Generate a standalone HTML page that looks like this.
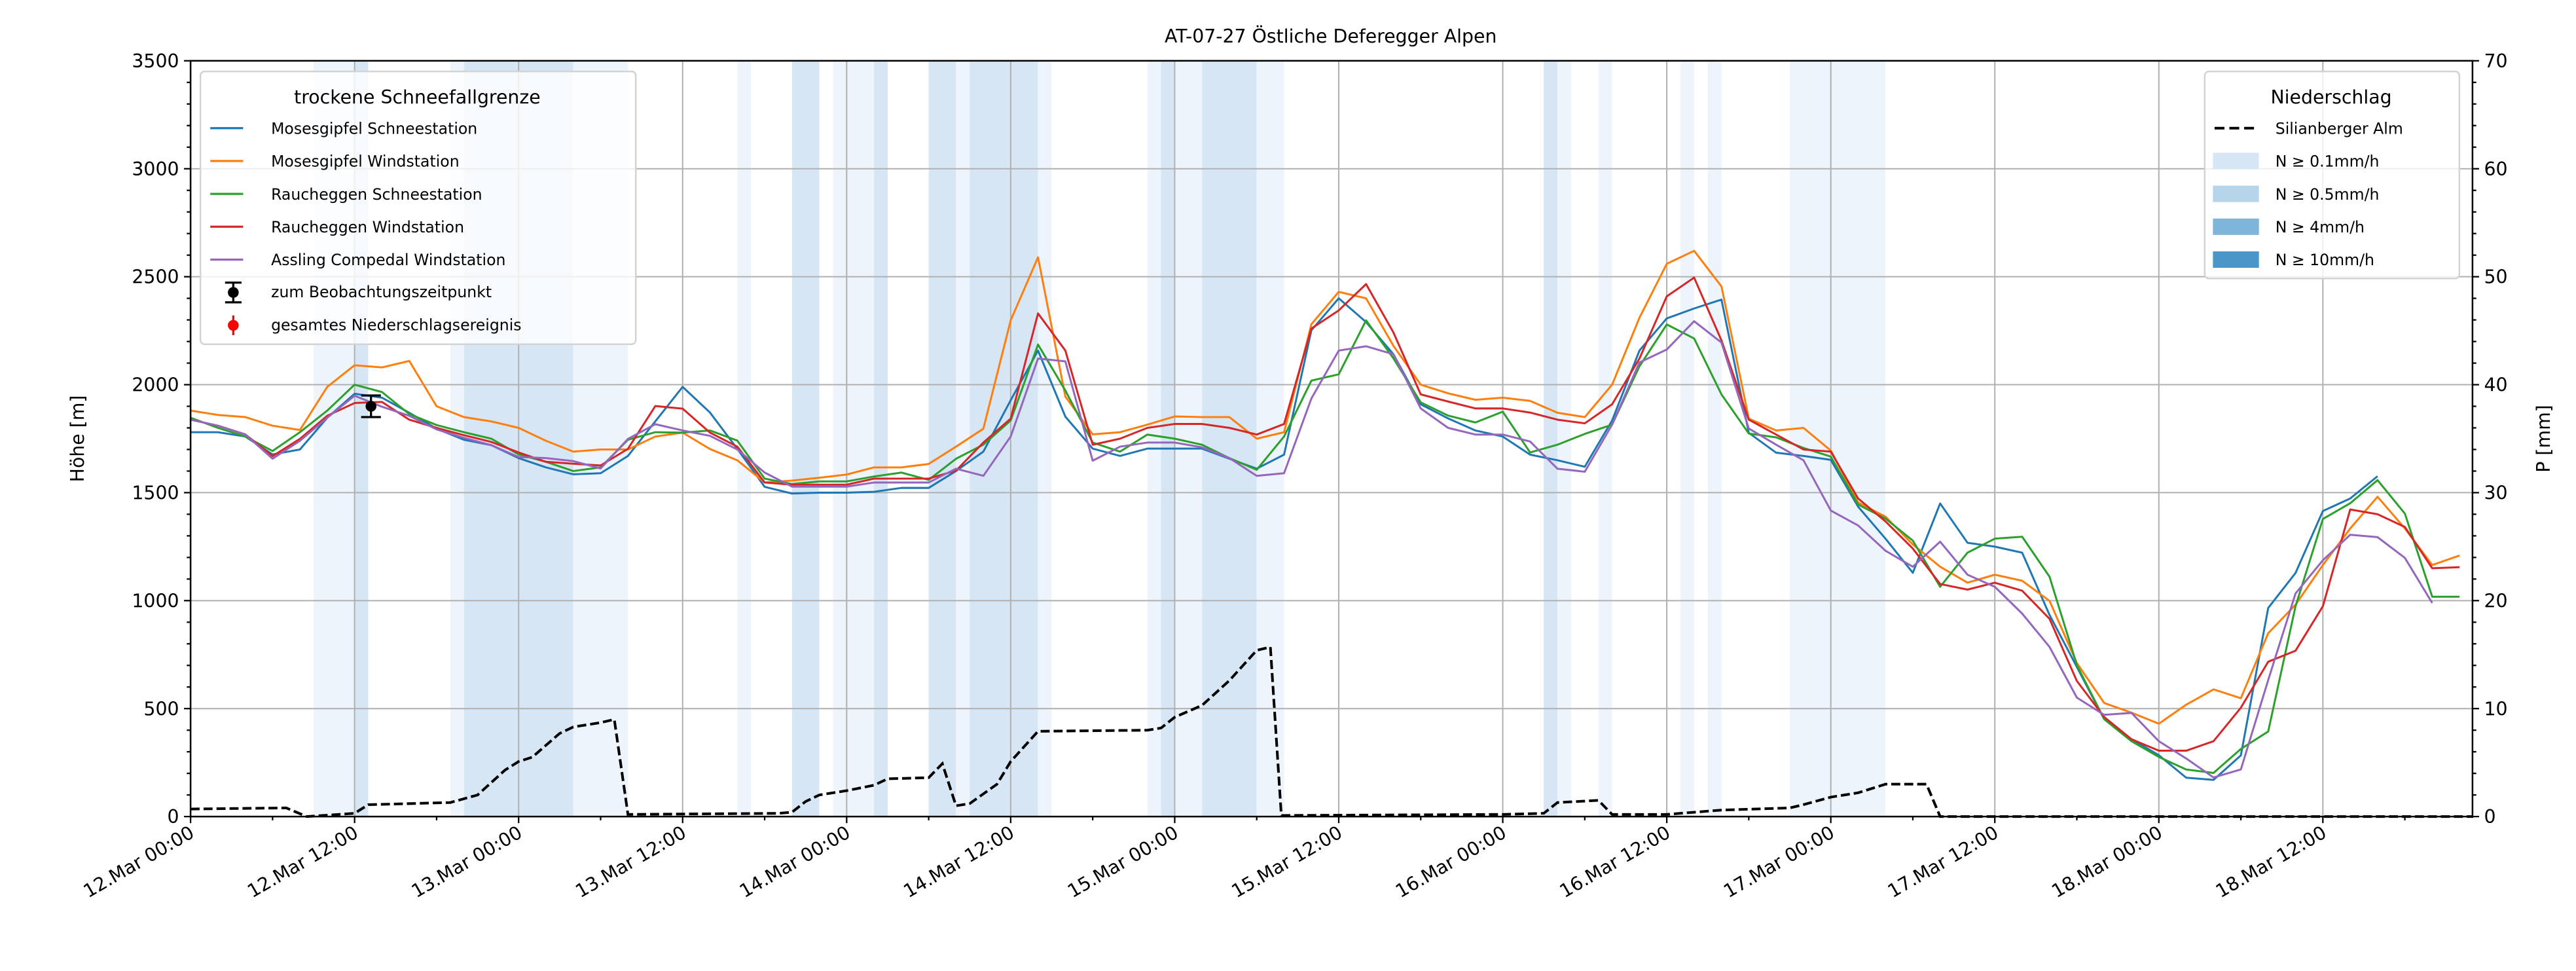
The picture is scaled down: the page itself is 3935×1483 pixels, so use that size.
<!DOCTYPE html>
<html><head><meta charset="utf-8">
<style>
html,body{margin:0;padding:0;background:#fff;}
svg{display:block;font-family:"DejaVu Sans","Liberation Sans",sans-serif;}
</style></head>
<body>
<svg id="chart" xmlns="http://www.w3.org/2000/svg" width="3935" height="1483" viewBox="0 0 1568 591" preserveAspectRatio="none">
<rect width="1568" height="591" fill="#fff"/>
<g id="spans"></g><g id="grid"></g><g id="series"></g><g id="axes"></g><g id="legends"></g>
<text x="810" y="26" font-size="11.3" text-anchor="middle">AT-07-27 Östliche Deferegger Alpen</text>
</svg>
<script>
// ---- data ----
const hours = [];
for (let h = 0; h <= 166; h += 2) hours.push(h);
const tickLabels = ["12.Mar 00:00","12.Mar 12:00","13.Mar 00:00","13.Mar 12:00","14.Mar 00:00","14.Mar 12:00","15.Mar 00:00","15.Mar 12:00","16.Mar 00:00","16.Mar 12:00","17.Mar 00:00","17.Mar 12:00","18.Mar 00:00","18.Mar 12:00"];
const leftTicks = [0,500,1000,1500,2000,2500,3000,3500];
const rightTicks = [0,10,20,30,40,50,60,70];
const seriesNames = ["Mosesgipfel Schneestation","Mosesgipfel Windstation","Raucheggen Schneestation","Raucheggen Windstation","Assling Compedal Windstation"];
const mosesSchnee = [1780,1780,1760,1677,1700,1847,1958,1940,1870,1796,1745,1720,1660,1617,1585,1590,1670,1830,1990,1871,1703,1527,1496,1500,1500,1504,1522,1522,1600,1690,1928,2158,1852,1704,1670,1704,1704,1704,1657,1611,1676,2252,2400,2290,2141,1909,1844,1788,1760,1676,1650,1620,1834,2158,2307,2353,2394,1777,1685,1670,1652,1435,1287,1129,1450,1268,1250,1222,934,693,451,358,284,180,170,283,966,1128,1415,1473,1576,null,null,null];
const mosesWind = [1880,1860,1850,1810,1790,1990,2090,2080,2110,1900,1850,1830,1800,1740,1690,1700,1700,1760,1778,1702,1650,1547,1556,1569,1584,1617,1617,1633,1713,1796,2298,2590,1945,1770,1780,1815,1853,1850,1850,1750,1780,2280,2430,2400,2180,2000,1960,1930,1940,1925,1870,1850,2000,2310,2560,2620,2455,1843,1788,1800,1695,1454,1389,1260,1157,1083,1120,1092,999,711,526,481,430,518,589,548,849,981,1165,1334,1481,1334,1165,1209];
const rauchSchnee = [1847,1800,1760,1693,1780,1880,2000,1966,1864,1813,1780,1750,1677,1643,1600,1617,1745,1780,1778,1788,1741,1565,1540,1552,1552,1575,1593,1559,1657,1722,1834,2186,1973,1732,1690,1769,1750,1722,1660,1606,1760,2019,2048,2298,2122,1918,1857,1825,1875,1686,1722,1772,1815,2085,2279,2214,1955,1774,1756,1707,1667,1445,1380,1278,1064,1222,1287,1296,1111,702,451,349,276,218,202,313,394,974,1378,1451,1558,1403,1018,1018];
const rauchWind = [1838,1810,1770,1669,1749,1856,1915,1920,1838,1800,1766,1735,1686,1643,1634,1626,1703,1901,1889,1778,1713,1547,1537,1537,1537,1565,1565,1565,1602,1732,1843,2330,2158,1722,1750,1800,1818,1818,1800,1769,1818,2260,2344,2466,2242,1955,1922,1890,1890,1871,1838,1821,1909,2121,2409,2496,2205,1838,1769,1700,1690,1473,1367,1241,1077,1051,1083,1046,916,628,461,358,305,305,349,504,717,768,974,1422,1400,1341,1150,1155];
const assling = [1838,1810,1770,1657,1740,1847,1949,1898,1856,1793,1754,1720,1665,1660,1646,1612,1749,1817,1788,1763,1700,1593,1528,1528,1528,1547,1547,1547,1611,1578,1760,2121,2108,1648,1713,1732,1732,1710,1660,1578,1590,1936,2158,2178,2141,1890,1800,1769,1769,1737,1611,1597,1815,2103,2163,2294,2195,1797,1722,1650,1417,1348,1231,1157,1273,1120,1064,940,786,551,471,480,349,269,181,218,632,1033,1187,1305,1294,1198,989,null];
const precipHours = [0,7,8.5,12,13,19,21,23,24,25,27,28,30,31,32,43,44,45,46,48,50,51,54,55,56,57,59,60,61,62,70,71,72,74,76,78,79,79.8,96,99,100,103,104,108,109,112,117,118,120,122,124,127,128,167];
const precipMM   = [0.7,0.8,0,0.3,1.1,1.3,2.0,4.3,5.1,5.5,7.7,8.3,8.7,9.0,0.2,0.3,0.4,1.4,2.0,2.4,2.9,3.5,3.6,4.9,1.0,1.2,3.0,5.1,6.5,7.9,8.0,8.2,9.2,10.3,12.6,15.4,15.7,0.1,0.2,0.3,1.3,1.5,0.2,0.2,0.3,0.6,0.8,1.1,1.8,2.2,3.0,3.0,0,0];
const spanStart = [9,12,19,20,28,40,44,47,50,54,56,57,62,70,71,72,74,78,99,100,103,109,111,117];
const spanEnd   = [12,13,20,28,32,41,46,50,51,56,57,62,63,71,72,74,78,80,100,101,104,110,112,124];
const spanLevel = [0,1,0,1,0,0,1,0,1,1,0,1,0,0,1,0,1,0,1,0,0,0,0,0];
const obsHour = [13.2];
const obsValue = [1900];
const obsErr = [50];

// ---- axes functions ----
const L=116,R=1505,T=37,B=497;
const xs = h => L + h*8.32;
const ys = v => B - v/3500*(B-T);
const yr = v => B - v/70*(B-T);
const NS="http://www.w3.org/2000/svg";
function mk(tag, attrs, parent){const e=document.createElementNS(NS,tag);for(const k in attrs)e.setAttribute(k,attrs[k]);if(parent)parent.appendChild(e);return e;}
const spansG=document.getElementById('spans'),gridG=document.getElementById('grid'),serG=document.getElementById('series'),axG=document.getElementById('axes'),legG=document.getElementById('legends');
const spanColors=["#eef4fb","#d7e6f4"];

spanStart.forEach((s,i)=>{
  const r=mk('rect',{x:xs(s),y:T,width:xs(spanEnd[i])-xs(s),height:B-T,fill:spanColors[spanLevel[i]]},spansG);
  
  
});
tickLabels.forEach((t,i)=>{const l=mk('line',{x1:xs(i*12),x2:xs(i*12),y1:T,y2:B,stroke:"#b0b0b0","stroke-width":0.8},gridG);
 
 });
leftTicks.forEach(v=>{const l=mk('line',{x1:L,x2:R,y1:ys(v),y2:ys(v),stroke:"#b0b0b0","stroke-width":0.8},gridG);
 
 });

const colors=["#1f77b4","#ff7f0e","#2ca02c","#d62728","#9467bd"];
const allSeries=[mosesSchnee,mosesWind,rauchSchnee,rauchWind,assling];
const slugs=["moses-schnee-line","moses-wind-line","rauch-schnee-line","rauch-wind-line","assling-line"];
allSeries.forEach((vals,si)=>{
  let d="",pen=false;
  vals.forEach((v,i)=>{ if(v==null){pen=false;return;} d+=(pen?"L":"M")+xs(hours[i]).toFixed(2)+","+ys(v).toFixed(2); pen=true;});
  const p=mk('path',{d:d,fill:"none",stroke:colors[si],"stroke-width":1.2,"stroke-linejoin":"round"},serG);
  
  
});
{
  let d="";precipHours.forEach((h,i)=>{d+=(i?"L":"M")+xs(h).toFixed(2)+","+yr(precipMM[i]).toFixed(2);});
  const p=mk('path',{d:d,fill:"none",stroke:"#000","stroke-width":1.6,"stroke-dasharray":"5.5,2.4"},serG);
  
  
}
obsHour.forEach((h,i)=>{
  const g=mk('g',{},serG);
  
  
  const x=xs(h),y1=ys(obsValue[i]+obsErr[i]),y2=ys(obsValue[i]-obsErr[i]);
  mk('line',{x1:x,x2:x,y1:y1,y2:y2,stroke:"#000","stroke-width":1.3},g);
  mk('line',{x1:x-6,x2:x+6,y1:y1,y2:y1,stroke:"#000","stroke-width":1.3},g);
  mk('line',{x1:x-6,x2:x+6,y1:y2,y2:y2,stroke:"#000","stroke-width":1.3},g);
  mk('circle',{cx:x,cy:ys(obsValue[i]),r:3.3,fill:"#000"},g);
});

const frame=mk('rect',{x:L,y:T,width:R-L,height:B-T,fill:"none",stroke:"#000","stroke-width":1},axG);


for(let h=0;h<=166;h+=6){const major=h%12===0;mk('line',{x1:xs(h),x2:xs(h),y1:B,y2:B+(major?4:2.3),stroke:"#000","stroke-width":0.9},axG);}
tickLabels.forEach((t,i)=>{const x=xs(i*12);const tx=mk('text',{x:0,y:0,"font-size":11.3,"text-anchor":"end",transform:`translate(${x+3},${B+12}) rotate(-30)`},axG);tx.textContent=t;
 
 });
for(let v=0;v<=3500;v+=100){const major=v%500===0;mk('line',{x1:L,x2:L-(major?4:2.3),y1:ys(v),y2:ys(v),stroke:"#000","stroke-width":0.9},axG);}
leftTicks.forEach(v=>{const tx=mk('text',{x:L-7,y:ys(v)+4,"font-size":11.3,"text-anchor":"end"},axG);tx.textContent=v;
 
 });
for(let v=0;v<=70;v+=2){const major=v%10===0;mk('line',{x1:R,x2:R+(major?4:2.3),y1:yr(v),y2:yr(v),stroke:"#000","stroke-width":0.9},axG);}
rightTicks.forEach(v=>{const tx=mk('text',{x:R+7,y:yr(v)+4,"font-size":11.3,"text-anchor":"start"},axG);tx.textContent=v;
 
 });
{const t=mk('text',{x:0,y:0,"font-size":11.3,"text-anchor":"middle",transform:"translate(51,267) rotate(-90)"},axG);t.textContent="Höhe [m]";
 
 }
{const t=mk('text',{x:0,y:0,"font-size":11.3,"text-anchor":"middle",transform:"translate(1552,267) rotate(-90)"},axG);t.textContent="P [mm]";
 
 }

{
 const g=mk('g',{},legG);
 
 
 mk('rect',{x:122,y:43.5,width:265,height:166,rx:2.5,fill:"#fff","fill-opacity":0.8,stroke:"#d3d3d3","stroke-width":1},g);
 const tt=mk('text',{x:254,y:63,"font-size":11.3,"text-anchor":"middle"},g);tt.textContent="trockene Schneefallgrenze";
 seriesNames.forEach((n,i)=>{const y=78+i*20;
   const e=mk('g',{},g);
   
   
   mk('line',{x1:128,x2:148,y1:y,y2:y,stroke:colors[i],"stroke-width":1.3},e);
   const t=mk('text',{x:165,y:y+3.5,"font-size":9.4},e);t.textContent=n;});
 const e1=mk('g',{},g);
 
 
 mk('line',{x1:142,x2:142,y1:172,y2:184,stroke:"#000","stroke-width":1.3},e1);
 mk('line',{x1:137,x2:147,y1:172,y2:172,stroke:"#000","stroke-width":1.3},e1);
 mk('line',{x1:137,x2:147,y1:184,y2:184,stroke:"#000","stroke-width":1.3},e1);
 mk('circle',{cx:142,cy:178,r:3.3,fill:"#000"},e1);
 const t1=mk('text',{x:165,y:181,"font-size":9.4},e1);t1.textContent="zum Beobachtungszeitpunkt";
 const e2=mk('g',{},g);
 
 
 mk('line',{x1:142,x2:142,y1:192,y2:204,stroke:"#f00","stroke-width":1.3},e2);
 mk('circle',{cx:142,cy:198,r:3.3,fill:"#f00"},e2);
 const t2=mk('text',{x:165,y:201,"font-size":9.4},e2);t2.textContent="gesamtes Niederschlagsereignis";
}
{
 const g=mk('g',{},legG);
 
 
 mk('rect',{x:1342,y:43.5,width:155,height:126,rx:2.5,fill:"#fff","fill-opacity":0.8,stroke:"#d3d3d3","stroke-width":1},g);
 const tt=mk('text',{x:1419,y:63,"font-size":11.3,"text-anchor":"middle"},g);tt.textContent="Niederschlag";
 const e0=mk('g',{},g);
 
 
 mk('line',{x1:1348,x2:1375,y1:78,y2:78,stroke:"#000","stroke-width":1.6,"stroke-dasharray":"6,3"},e0);
 const t0=mk('text',{x:1385,y:81.5,"font-size":9.4},e0);t0.textContent="Silianberger Alm";
 const pc=["#d7e6f4","#b6d4ea","#7fb5d9","#4a96c8"],pl=["N ≥ 0.1mm/h","N ≥ 0.5mm/h","N ≥ 4mm/h","N ≥ 10mm/h"];
 pl.forEach((l,i)=>{const y=98+i*20;const e=mk('g',{},g);
   
   
   mk('rect',{x:1347,y:y-5,width:28,height:10,fill:pc[i]},e);
   const t=mk('text',{x:1385,y:y+3.5,"font-size":9.4},e);t.textContent=l;});
}
</script>
</body></html>
